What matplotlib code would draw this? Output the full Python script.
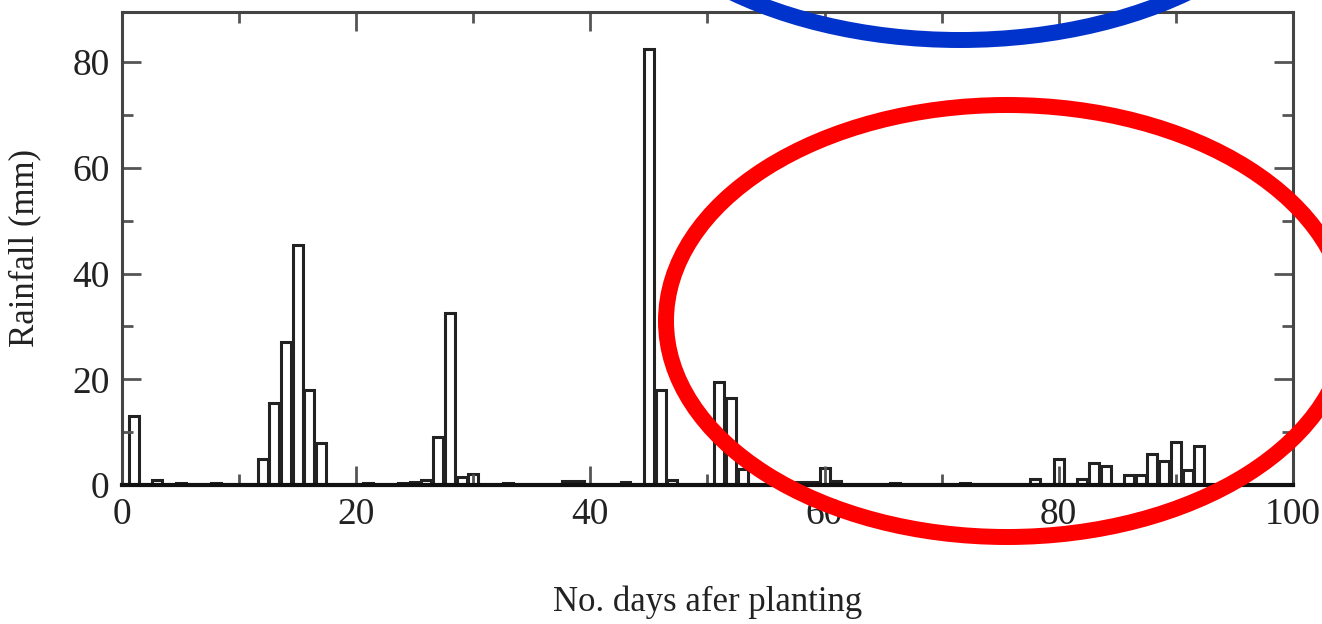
import numpy as np
import matplotlib.pyplot as plt
from matplotlib.patches import Ellipse
from matplotlib.ticker import MultipleLocator

# Daily rainfall (mm) by number of days after planting
days = [1, 3, 5, 8, 12, 13, 14, 15, 16, 17, 21, 24, 25, 26, 27, 28, 29, 30,
        33, 38, 39, 43, 45, 46, 47, 51, 52, 53, 56, 58, 59, 60, 61,
        66, 72, 78, 80, 82, 83, 84, 86, 87, 88, 89, 90, 91, 92]
rain = [13, 1, 0.3, 0.3, 5, 15.5, 27, 45.5, 18, 8, 0.3, 0.3, 0.5, 1, 9, 32.5, 1.5, 2,
        0.3, 0.8, 0.8, 0.5, 82.5, 18, 1, 19.5, 16.5, 3, 0.3, 0.5, 0.6, 3.2, 0.8,
        0.3, 0.3, 1.2, 5, 1.2, 4.2, 3.5, 1.8, 1.8, 5.8, 4.5, 8.2, 2.8, 7.3]

x_label = "No. days afer planting"
y_label = "Rainfall (mm)"

plt.rcParams['font.family'] = ['Liberation Serif', 'DejaVu Serif']

fig = plt.figure(figsize=(13.22, 6.24), dpi=100)
ax = fig.add_axes([0.0923, 0.2228, 0.8857, 0.758])

ax.bar(days, rain, width=0.85, color='white', edgecolor='#222222', linewidth=2.2)

ax.set_xlim(0, 100)
ax.set_ylim(0, 89.5)
ax.xaxis.set_major_locator(MultipleLocator(20))
ax.xaxis.set_minor_locator(MultipleLocator(10))
ax.yaxis.set_major_locator(MultipleLocator(20))
ax.yaxis.set_minor_locator(MultipleLocator(10))
ax.tick_params(which='both', direction='in', top=True, right=True,
               color='#555555', width=2, labelsize=27, labelcolor='#222222')
ax.tick_params(which='major', length=14, pad=9)
ax.tick_params(which='minor', length=8)
for s in ax.spines.values():
    s.set_linewidth(2.2)
    s.set_color('#444444')
ax.spines['bottom'].set_color('#111111')
ax.spines['bottom'].set_linewidth(3)

ax.set_xlabel(x_label, fontsize=25, color='#222222')
ax.set_ylabel(y_label, fontsize=25, color='#222222')
ax.xaxis.set_label_coords(0.5, -0.212)
ax.yaxis.set_label_coords(-0.069, 0.5)

# hand-drawn style highlight ellipses on top of the figure (pixel coords)
over = fig.add_axes([0, 0, 1, 1], facecolor='none')
over.set_xlim(0, 1322)
over.set_ylim(624, 0)
over.axis('off')
over.add_patch(Ellipse((1007, 321), 2 * 341, 2 * 216, fill=False,
                       edgecolor='#ff0000', linewidth=11.5, clip_on=False))
over.add_patch(Ellipse((960, -170), 2 * 360, 2 * 210, fill=False,
                       edgecolor='#0033cc', linewidth=11.5, clip_on=False))

fig.savefig('out.png', dpi=100)
